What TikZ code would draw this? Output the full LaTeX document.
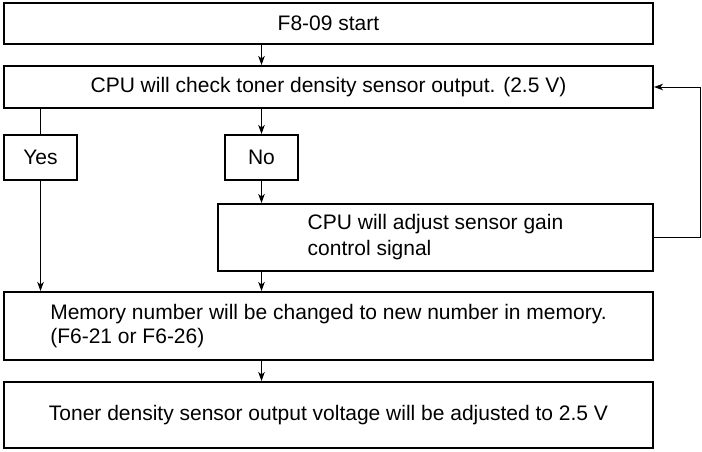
\documentclass[tikz,border=0pt]{standalone}
\usepackage{fontspec}
\setmainfont{Liberation Sans}
\usetikzlibrary{arrows.meta}
\begin{document}
\begin{tikzpicture}[x=1pt,y=-1pt,font=\fontsize{21}{24}\selectfont,
  >={Stealth[length=9pt,width=6.5pt,inset=2.5pt]},
  box/.style={draw,line width=2pt,inner sep=0pt},
  wide/.style={box,minimum width=649pt},
  link/.style={line width=1pt}]
  \useasboundingbox (0,0) rectangle (702,451);
  % boxes
  \node[wide,minimum height=41pt] (start) at (328.5,23.5) {F8-09 start};
  \node[wide,minimum height=42pt] (check) at (328.5,87)
    {CPU will check toner density sensor output. (2.5 V)};
  \node[box,minimum width=73pt,minimum height=45pt] (yes) at (40.5,157.5) {Yes};
  \node[box,minimum width=73pt,minimum height=45pt] (no) at (261.5,157.5) {No};
  \node[box,minimum width=435pt,minimum height=67pt,align=left] (adjust) at (435.5,237.5)
    {CPU will adjust sensor gain\\[2pt]control signal};
  \node[wide,minimum height=68pt,align=left] (memory) at (328.5,326)
    {Memory number will be changed to new number in memory.\\(F6-21 or F6-26)};
  \node[wide,minimum height=66pt] (toner) at (328.5,415)
    {Toner density sensor output voltage will be adjusted to 2.5 V};
  \coordinate (back) at (700.5,160);

  % connectors
  \draw[link,->] (start.south -| no) -- (check.north -| no);
  \draw[link] (check.south -| yes) -- (yes);
  \draw[link,->] (check.south -| no) -- (no);
  \draw[link,->] (no) -- (no |- adjust.north);
  \draw[link,->] (yes) -- (yes |- memory.north);
  \draw[link,->] (adjust.south -| no) -- (memory.north -| no);
  \draw[link,->] (memory.south -| no) -- (toner.north -| no);
  \draw[link,->] (adjust.east) -| (back) |- (check.east);
\end{tikzpicture}
\end{document}
